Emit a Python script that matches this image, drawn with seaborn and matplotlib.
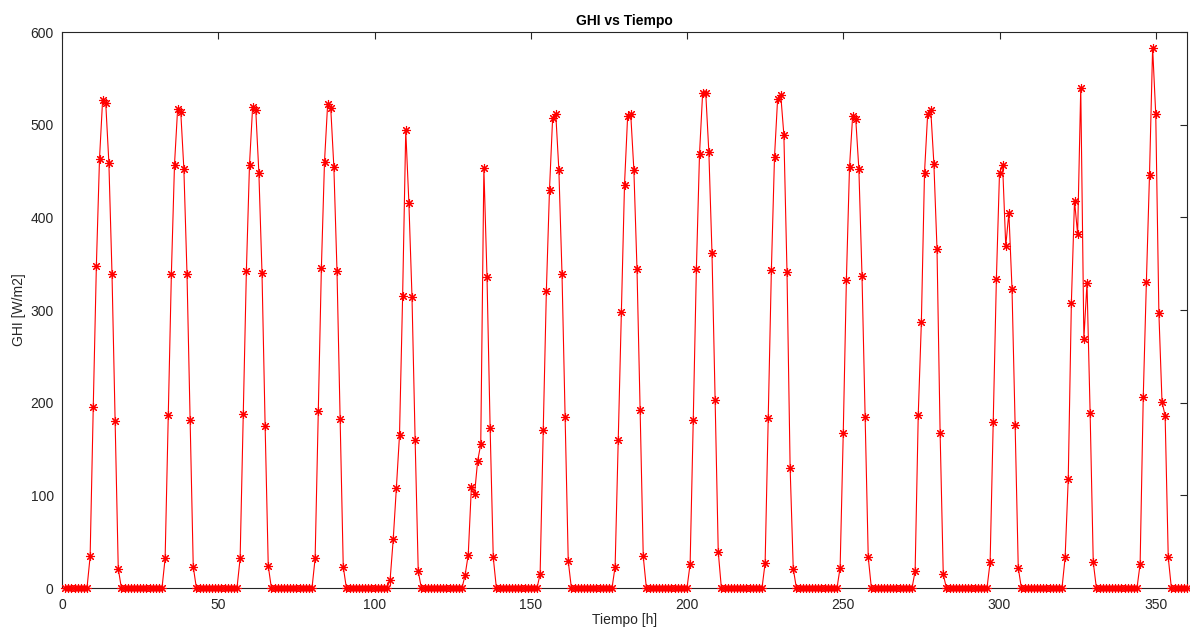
import numpy as np
import pandas as pd
import matplotlib
matplotlib.use("Agg")
import matplotlib.pyplot as plt
import seaborn as sns

# Hourly GHI series: 15 days, non-zero values between hour 9 and 18 of each day
n_hours = 360
daylight_offsets = [9, 10, 11, 12, 13, 14, 15, 16, 17, 18]

day01 = [34, 195, 348, 463, 527, 523, 459, 339, 180, 21]
day02 = [32, 187, 339, 457, 517, 514, 452, 339, 181, 23]
day03 = [32, 188, 342, 457, 519, 516, 448, 340, 175, 24]
day04 = [32, 191, 345, 460, 522, 518, 454, 342, 182, 23]
day05 = [9, 53, 108, 165, 315, 494, 416, 314, 160, 18]
day06 = [14, 36, 109, 101, 137, 155, 453, 336, 173, 33]
day07 = [15, 171, 321, 430, 507, 512, 451, 339, 184, 29]
day08 = [23, 160, 298, 435, 509, 511, 451, 344, 192, 34]
day09 = [26, 181, 344, 468, 534, 534, 470, 361, 203, 39]
day10 = [27, 183, 343, 465, 528, 532, 489, 341, 130, 21]
day11 = [22, 167, 332, 454, 509, 506, 452, 337, 184, 33]
day12 = [18, 187, 287, 448, 511, 516, 458, 366, 167, 15]
day13 = [28, 179, 333, 448, 456, 369, 405, 323, 176, 22]
day14 = [33, 118, 308, 418, 382, 540, 269, 329, 189, 28]
day15 = [26, 206, 330, 446, 583, 511, 297, 201, 186, 33]

days = [day01, day02, day03, day04, day05, day06, day07, day08,
        day09, day10, day11, day12, day13, day14, day15]

x_ticks = [0, 50, 100, 150, 200, 250, 300, 350]
y_ticks = [0, 100, 200, 300, 400, 500, 600]

hours = np.arange(1, n_hours + 1)
ghi = np.zeros(n_hours)
for d, vals in enumerate(days):
    for off, v in zip(daylight_offsets, vals):
        ghi[d * 24 + off - 1] = v

df = pd.DataFrame({"Tiempo": hours, "GHI": ghi})

sns.set_theme(style="white")
plt.rcParams["font.family"] = ["Liberation Sans", "DejaVu Sans"]

fig = plt.figure(figsize=(11.9, 6.3), dpi=100)
ax = fig.add_axes([62 / 1190, 42 / 630, 1125 / 1190, 556 / 630])

sns.lineplot(data=df, x="Tiempo", y="GHI", ax=ax, color="red", linewidth=0.8,
             marker=(8, 2, 0), markersize=6.5, markeredgecolor="red",
             markerfacecolor="red", markeredgewidth=0.8, clip_on=False, zorder=3)

ax.set_xlim(0, 360)
ax.set_ylim(0, 600)
ax.set_xticks(x_ticks)
ax.set_yticks(y_ticks)
ax.set_xlabel("Tiempo [h]", fontsize=10, color="#262626", labelpad=1)
ax.set_ylabel("GHI [W/m2]", fontsize=10, color="#262626", labelpad=3)
ax.set_title("GHI vs Tiempo", fontsize=10, fontweight="bold", color="black", pad=5)

ax.tick_params(axis="both", direction="in", length=5, width=0.8, labelsize=10,
               colors="#262626", top=True, right=True)
ax.tick_params(axis="x", pad=7)
ax.tick_params(axis="y", pad=6)
for side in ["top", "bottom", "left", "right"]:
    ax.spines[side].set_visible(True)
    ax.spines[side].set_color("#262626")
    ax.spines[side].set_linewidth(0.8)
ax.grid(False)

fig.savefig("out.png", dpi=100, facecolor="white")
